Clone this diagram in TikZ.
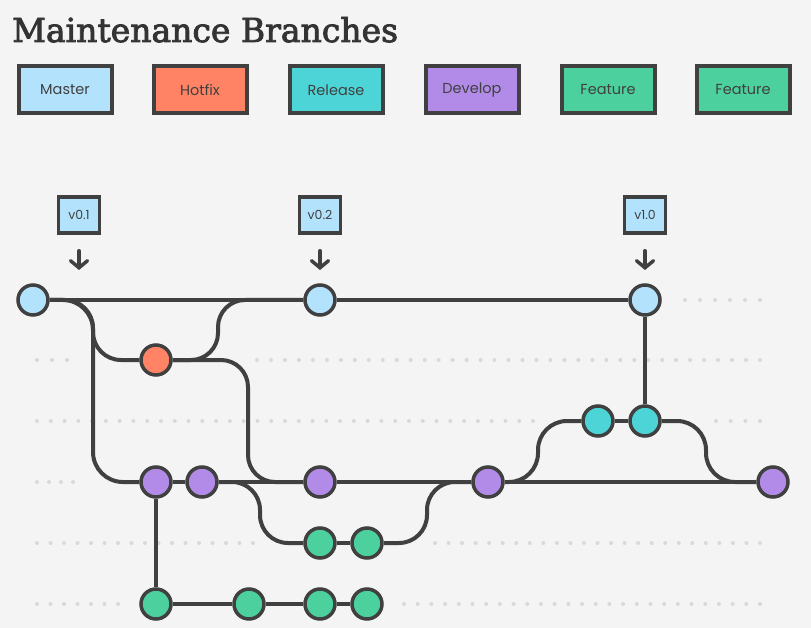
\documentclass[tikz,border=0pt]{standalone}
\usepackage{fontspec}
\setmainfont{Poppins}
\newfontfamily\titlefont[FakeBold=2.5]{DejaVu Serif}
\usetikzlibrary{arrows.meta}

\definecolor{bgcol}{HTML}{F4F4F4}
\definecolor{inkcol}{HTML}{404040}
\definecolor{titlecol}{HTML}{333333}
\definecolor{mastercol}{HTML}{B3E2FD}
\definecolor{hotfixcol}{HTML}{FF8364}
\definecolor{releasecol}{HTML}{4DD4D6}
\definecolor{developcol}{HTML}{B28BE8}
\definecolor{featurecol}{HTML}{4BD09E}
\definecolor{dotcol}{HTML}{D9D9D9}

\tikzset{
  commit/.style={circle, draw=inkcol, line width=3.5pt, minimum size=30pt, inner sep=0pt},
  legendbox/.style={draw=inkcol, line width=4pt, minimum width=93pt, minimum height=47pt,
    text=inkcol, font=\fontsize{14.5}{17}\selectfont},
  tagbox/.style={draw=inkcol, fill=mastercol, line width=3.5pt, minimum width=41pt,
    minimum height=36pt, inner sep=0pt, text=inkcol, font=\fontsize{12.5}{14}\selectfont},
  branch/.style={draw=inkcol, line width=4pt},
  tagarrow/.style={draw=inkcol, line width=3.5pt, line cap=round,
    -{Straight Barb[length=7pt, width=17pt, line cap=round]}},
}

% dotted guide line: y, x from, x to, intervals
\newcommand{\dotrow}[4]{\foreach \k in {0,...,#4} \fill[dotcol] ({#2+\k*((#3-#2)/#4)},#1) circle (2pt);}

\begin{document}
\begin{tikzpicture}[x=1pt, y=-1pt]
  \fill[bgcol] (0,0) rectangle (811,628);
  \useasboundingbox (0,0) rectangle (811,628);

  % title and legend
  \node[anchor=base west, inner sep=0pt, text=titlecol, font=\titlefont\fontsize{33}{40}\selectfont] (title) at (12,42) {Maintenance Branches};
  \node[legendbox, fill=mastercol] (lmaster) at (65,90) {Master};
  \node[legendbox, fill=hotfixcol] (lhotfix) at (200,90) {Hotfix};
  \node[legendbox, fill=releasecol] (lrelease) at (336,90) {Release};
  \node[legendbox, fill=developcol] (ldevelop) at (472,90) {Develop};
  \node[legendbox, fill=featurecol] (lfeaturea) at (608,90) {Feature};
  \node[legendbox, fill=featurecol] (lfeatureb) at (743,90) {Feature};

  % guide dots
  \dotrow{300}{685}{760}{5}
  \dotrow{360}{37}{67}{2}
  \dotrow{360}{257}{760}{36}
  \dotrow{421}{37}{533}{36}
  \dotrow{421}{716}{760}{3}
  \dotrow{482}{37}{73}{3}
  \dotrow{543}{37}{253}{16}
  \dotrow{543}{435}{760}{24}
  \dotrow{604}{37}{118}{6}
  \dotrow{604}{404}{760}{26}

  % commits
  \node[commit, fill=mastercol] (m0) at (33,300) {};
  \node[commit, fill=mastercol] (m1) at (320,300) {};
  \node[commit, fill=mastercol] (m2) at (645,300) {};
  \node[commit, fill=hotfixcol] (h0) at (156,360) {};
  \node[commit, fill=releasecol] (r0) at (598,421) {};
  \node[commit, fill=releasecol] (r1) at (645,421) {};
  \node[commit, fill=developcol] (d0) at (156,482) {};
  \node[commit, fill=developcol] (d1) at (202,482) {};
  \node[commit, fill=developcol] (d2) at (320,482) {};
  \node[commit, fill=developcol] (d3) at (488,482) {};
  \node[commit, fill=developcol] (d4) at (773,482) {};
  \node[commit, fill=featurecol] (fa0) at (320,543) {};
  \node[commit, fill=featurecol] (fa1) at (367,543) {};
  \node[commit, fill=featurecol] (fb0) at (156,604) {};
  \node[commit, fill=featurecol] (fb1) at (249,604) {};
  \node[commit, fill=featurecol] (fb2) at (320,604) {};
  \node[commit, fill=featurecol] (fb3) at (367,604) {};

  % tags
  \node[tagbox] (t1) at (79,215) {v0.1};
  \node[tagbox] (t2) at (320,215) {v0.2};
  \node[tagbox] (t3) at (645,215) {v1.0};
  \coordinate (a1) at (79,270);
  \coordinate (a2) at (320,270);
  \coordinate (a3) at (645,270);
  \draw[tagarrow] ([yshift=-16pt]t1.south) -- (a1);
  \draw[tagarrow] ([yshift=-16pt]t2.south) -- (a2);
  \draw[tagarrow] ([yshift=-16pt]t3.south) -- (a3);

  % master
  \draw[branch] (m0) -- (m1);
  \draw[branch] (m1) -- (m2);
  % hotfix
  \draw[branch, rounded corners=28pt] (m0) -- (93,300) -- (93,360) -- (h0);
  \draw[branch, rounded corners=27pt] (h0) -- (218,360) -- (218,300) -- (m1);
  \draw[branch, rounded corners=27pt] (h0) -- (248,360) -- (248,482) -- (d2);
  % develop
  \draw[branch, rounded corners=30pt] (m0) -- (93,300) -- (93,482) -- (d0);
  \draw[branch] (d0) -- (d1);
  \draw[branch] (d1) -- (d2);
  \draw[branch] (d2) -- (d3);
  \draw[branch] (d3) -- (d4);
  % features
  \draw[branch, rounded corners=28pt] (d1) -- (260,482) -- (260,543) -- (fa0);
  \draw[branch] (fa0) -- (fa1);
  \draw[branch, rounded corners=28pt] (fa1) -- (427,543) -- (427,482) -- (d3);
  \draw[branch] (d0) -- (fb0);
  \draw[branch] (fb0) -- (fb1);
  \draw[branch] (fb1) -- (fb2);
  \draw[branch] (fb2) -- (fb3);
  % release
  \draw[branch, rounded corners=29pt] (d3) -- (538,482) -- (538,421) -- (r0);
  \draw[branch] (r0) -- (r1);
  \draw[branch] (r1) -- (m2);
  \draw[branch, rounded corners=29pt] (r1) -- (706,421) -- (706,482) -- (d4);
\end{tikzpicture}
\end{document}
